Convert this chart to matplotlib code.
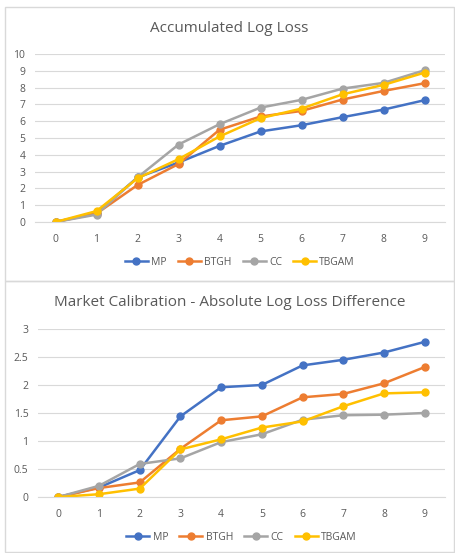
import matplotlib.pyplot as plt
from matplotlib.patches import Rectangle

# data
steps = list(range(10))
series_names = ["MP", "BTGH", "CC", "TBGAM"]
colors = ["#4472C4", "#ED7D31", "#A5A5A5", "#FFC000"]

loss_mp = [0, 0.55, 2.65, 3.54, 4.53, 5.39, 5.76, 6.24, 6.69, 7.25]
loss_btgh = [0, 0.5, 2.2, 3.45, 5.49, 6.28, 6.61, 7.29, 7.8, 8.26]
loss_cc = [0, 0.44, 2.65, 4.61, 5.82, 6.81, 7.27, 7.94, 8.28, 9.03]
loss_tbgam = [0, 0.65, 2.6, 3.74, 5.09, 6.18, 6.75, 7.6, 8.16, 8.89]

calib_mp = [0, 0.17, 0.48, 1.44, 1.96, 2.0, 2.35, 2.45, 2.58, 2.77]
calib_btgh = [0, 0.16, 0.26, 0.86, 1.37, 1.44, 1.78, 1.84, 2.03, 2.32]
calib_cc = [0, 0.2, 0.59, 0.69, 0.98, 1.12, 1.38, 1.46, 1.47, 1.5]
calib_tbgam = [0, 0.05, 0.15, 0.85, 1.03, 1.24, 1.35, 1.62, 1.85, 1.87]

W, H = 455, 553
fig = plt.figure(figsize=(W / 100, H / 100), dpi=100)
fig.patch.set_facecolor("white")
TXT = "#595959"
GRID = "#D9D9D9"


def px_axes(x0, y0, x1, y1):
    # pixel box (top-left origin) -> figure axes
    return fig.add_axes([x0 / W, 1 - y1 / H, (x1 - x0) / W, (y1 - y0) / H])


def draw_chart(box, title, title_y, plot_box, data, ymax, ystep, tick_y, legend_y):
    bx0, by0, bx1, by1 = box
    fig.patches.append(Rectangle((bx0 / W, 1 - by1 / H), (bx1 - bx0) / W, (by1 - by0) / H,
                                 transform=fig.transFigure, fill=False,
                                 edgecolor="#D9D9D9", linewidth=1))
    fig.text((bx0 + bx1) / 2 / W, 1 - title_y / H, title, ha="center", va="center",
             fontsize=11, color=TXT, family="Open Sans")

    ax = px_axes(*plot_box)
    for name, col, vals in zip(series_names, colors, data):
        ax.plot(steps, vals, color=col, linewidth=1.8, marker="o", markersize=5, label=name)
    ax.set_xlim(-0.5, 9.5)
    ax.set_ylim(0, ymax)
    yt = [i * ystep for i in range(int(round(ymax / ystep)) + 1)]
    ax.set_yticks(yt)
    ax.set_yticklabels([f"{v:g}" for v in yt])
    ax.set_xticks(steps)
    ax.grid(axis="y", color=GRID, linewidth=0.8)
    ax.set_axisbelow(True)
    for s in ["top", "right", "left"]:
        ax.spines[s].set_visible(False)
    ax.spines["bottom"].set_color(GRID)
    ax.tick_params(length=0, colors=TXT, labelsize=7.5)
    ax.tick_params(axis="x", pad=(tick_y - plot_box[3]) * 0.72 - 2.5)
    ax.tick_params(axis="y", pad=7)
    for t in ax.get_xticklabels() + ax.get_yticklabels():
        t.set_family("Open Sans")
    leg = ax.legend(loc="center", bbox_to_anchor=(0.5, 1 - (legend_y - plot_box[1]) / (plot_box[3] - plot_box[1])),
                    ncol=4, frameon=False, handlelength=2.2, columnspacing=1.1,
                    handletextpad=0.3, prop={"family": "Open Sans", "size": 7.5})
    for t in leg.get_texts():
        t.set_color(TXT)
    return ax


draw_chart((5, 7, 454, 281), "Accumulated Log Loss", 29, (35, 54, 445, 222),
           [loss_mp, loss_btgh, loss_cc, loss_tbgam], 10, 1, 237, 262)
draw_chart((5, 281, 454, 552), "Market Calibration - Absolute Log Loss Difference", 303, (38, 329, 445, 497),
           [calib_mp, calib_btgh, calib_cc, calib_tbgam], 3, 0.5, 512, 537)

fig.savefig("out.png", dpi=100)
